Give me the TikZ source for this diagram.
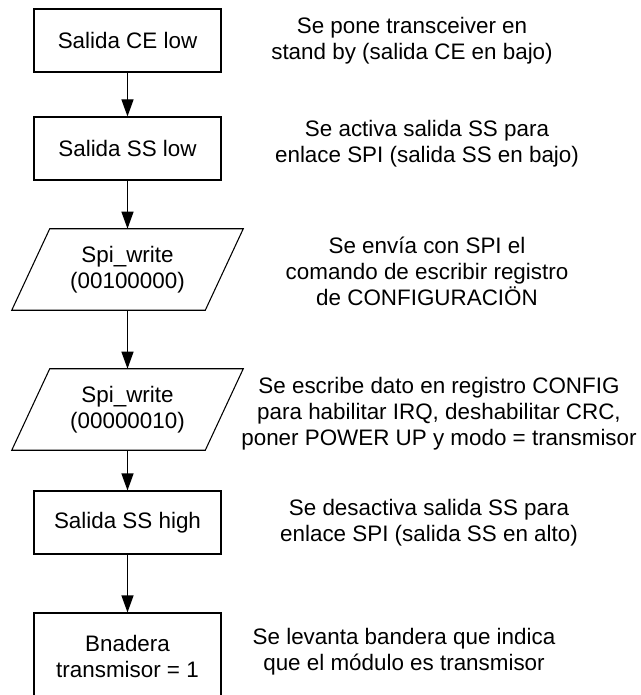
\documentclass[tikz,border=0pt]{standalone}
\usepackage{fontspec}
\setmainfont{Liberation Sans}
\usetikzlibrary{arrows.meta}
\begin{document}
\begin{tikzpicture}[x=0.75pt,y=-0.75pt,
  every node/.style={font=\fontsize{16.8}{19.5}\selectfont, text=black},
  procbox/.style={draw, line width=0.8pt, minimum width=140.25pt, minimum height=47.25pt, inner sep=0pt, align=center},
  iobox/.style={minimum width=144.75pt, minimum height=60.75pt, inner sep=0pt, align=center},
  ioline/.style={line width=0.8pt},
  flow/.style={line width=0.8pt, -{Triangle[length=12.75pt,width=9pt]}},
  note/.style={anchor=base, inner sep=0pt}]
\useasboundingbox (0,0) rectangle (641,695);
\clip (0,0) rectangle (641,695);
\node[procbox] (b1) at (127.5,40.5) {Salida CE low};
\node[procbox] (b2) at (127.5,148.5) {Salida SS low};
\node[iobox] (p1) at (127.5,269.5) {Spi\_write\\(00100000)};
\node[iobox] (p2) at (127.5,409.5) {Spi\_write\\(00000010)};
\node[procbox] (b5) at (127.5,522.5) {Salida SS high};
\node[procbox, minimum height=65.25pt] (b6) at (127.5,656.5) {Bnadera\\transmisor = 1};
\foreach \p in {p1,p2}
  \draw[ioline] ([xshift=14.25pt]\p.north west) -- ([xshift=14.25pt]\p.north east)
    -- ([xshift=-14.25pt]\p.south east) -- ([xshift=-14.25pt]\p.south west) -- cycle;
\draw[flow] (b1) -- (b2);
\draw[flow] (b2) -- (p1);
\draw[flow] (p1) -- (p2);
\draw[flow] (p2) -- (b5);
\draw[flow] (b5) -- (b6);
\node[note] (n1) at (412,34) {\begin{tabular}[t]{@{}c@{}}Se pone transceiver en\\stand by (salida CE en bajo)\end{tabular}};
\node[note] (n2) at (427,137) {\begin{tabular}[t]{@{}c@{}}Se activa salida SS para\\enlace SPI (salida SS en bajo)\end{tabular}};
\node[note] (n3) at (427,253) {\begin{tabular}[t]{@{}c@{}}Se envía con SPI el\\comando de escribir registro\\de CONFIGURACIÖN\end{tabular}};
\node[note] (n4) at (439,393) {\begin{tabular}[t]{@{}c@{}}Se escribe dato en registro CONFIG\\para habilitar IRQ, deshabilitar CRC,\\poner POWER UP y modo = transmisor\end{tabular}};
\node[note] (n5) at (429,515) {\begin{tabular}[t]{@{}c@{}}Se desactiva salida SS para\\enlace SPI (salida SS en alto)\end{tabular}};
\node[note] (n6) at (404,644) {\begin{tabular}[t]{@{}c@{}}Se levanta bandera que indica\\que el módulo es transmisor\end{tabular}};
\end{tikzpicture}
\end{document}
